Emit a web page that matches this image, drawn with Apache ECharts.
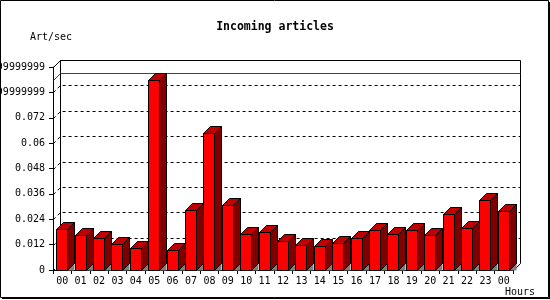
<!DOCTYPE html>
<html>
<head>
<meta charset="utf-8">
<script src="https://cdn.jsdelivr.net/npm/echarts@6/dist/echarts.min.js"></script>
<style>html,body{margin:0;padding:0;background:#fff}#c{width:550px;height:300px}</style>
</head>
<body>
<div id="c"></div>
<script>
const hours = ['00','01','02','03','04','05','06','07','08','09','10','11','12','13','14','15','16','17','18','19','20','21','22','23','00'];
const articlesPerSec = [0.0192, 0.0164, 0.0150, 0.0123, 0.0103, 0.0897, 0.0093, 0.0282, 0.0646, 0.0306, 0.0169, 0.0178, 0.0136, 0.0117, 0.0112, 0.0126, 0.0150, 0.0188, 0.0169, 0.0188, 0.0164, 0.0265, 0.0197, 0.0329, 0.0277];
const yTickValues = [0, 0.012, 0.024, 0.036, 0.048, 0.06, 0.072, 0.084, 0.096];
const yTickLabels = ['0','0.012','0.024','0.036','0.048','0.06','0.072','0.08399999999999999','0.09599999999999999'];
const titleText = 'Incoming articles';
const yName = 'Art/sec';
const xName = 'Hours';

const FONT = 'DejaVu Sans Mono';
const D = 7;

const chart = echarts.init(document.getElementById('c'), null, {renderer: 'canvas'});

function renderBack(params, api) {
  const cs = params.coordSys;
  const x0 = Math.round(cs.x) + 0.5, x1 = Math.round(cs.x + cs.width) + 0.5;
  const y0 = Math.round(cs.y) + 0.5, y1 = Math.round(cs.y + cs.height) + 0.5;
  const ch = [];
  ch.push({type:'rect', shape:{x:x0 + D, y:y0 - D, width:x1 - x0, height:y1 - y0}, style:{fill:'#fff', stroke:null}});
  for (let k = 1; k < yTickValues.length - 1; k++) {
    const y = Math.round(api.coord([0, yTickValues[k]])[1]) + 0.5;
    ch.push({type:'polyline', shape:{points:[[x0, y],[x0 + D, y - D],[x1 + D, y - D]]}, style:{fill:null, stroke:'#000', lineWidth:1, lineDash:[3,3]}});
  }
  ch.push({type:'line', shape:{x1:x0, y1:y1, x2:x0 + D, y2:y1 - D}, style:{stroke:'#000', lineWidth:1, lineDash:[2,3]}});
  ch.push({type:'polyline', shape:{points:[[x0 + D, y1 - D],[x0 + D, y0 - D],[x1 + D, y0 - D],[x1 + D, y1 - D]]}, style:{fill:null, stroke:'#000', lineWidth:1}});
  ch.push({type:'line', shape:{x1:x0, y1:y0, x2:x0 + D, y2:y0 - D}, style:{stroke:'#000', lineWidth:1}});
  ch.push({type:'line', shape:{x1:x1, y1:y1, x2:x1 + D, y2:y1 - D}, style:{stroke:'#000', lineWidth:1}});
  const maxVal = Math.max.apply(null, articlesPerSec);
  const ym = Math.round(api.coord([0, maxVal])[1]) + 0.5;
  ch.push({type:'polyline', shape:{points:[[x0, ym],[x0 + D, ym - D],[x1 + D, ym - D]]}, style:{fill:null, stroke:'#dd0000', lineWidth:1}});
  return {type:'group', children: ch};
}

function renderBar(params, api) {
  const i = api.value(0), v = api.value(1);
  const top = api.coord([i, v]);
  const base = api.coord([i, 0]);
  const w = Math.round(api.size([1, 0])[0] * 0.6);
  const l = Math.floor(top[0] - w / 2) + 0.5;
  const r = l + w;
  const t = Math.round(top[1]) + 0.5;
  const b = Math.round(base[1]) + 0.5;
  const st = {stroke:'#000', lineWidth:1};
  return {type:'group', children:[
    {type:'polygon', shape:{points:[[r, b],[r + D, b - D],[r + D, b]]}, style:{fill:'#808080', stroke:null}},
    {type:'polygon', shape:{points:[[r, t],[r + D, t - D],[r + D, b - D],[r, b]]}, style:Object.assign({fill:'#800000'}, st)},
    {type:'polygon', shape:{points:[[l, t],[l + D, t - D],[r + D, t - D],[r, t]]}, style:Object.assign({fill:'#c00000'}, st)},
    {type:'rect', shape:{x:l, y:t, width:r - l, height:b - t}, style:Object.assign({fill:'#ff0000'}, st)}
  ]};
}

const option = {
  animation: false,
  backgroundColor: '#fff',
  textStyle: {fontFamily: FONT},
  grid: {left: 53, right: 37, top: 67, bottom: 30, containLabel: false, outerBoundsMode: 'none'},
  xAxis: {
    type: 'category',
    data: hours,
    boundaryGap: true,
    axisLine: {lineStyle: {color: '#000', width: 1}},
    axisTick: {show: true, length: 4, lineStyle: {color: '#000'}},
    axisLabel: {color: '#000', fontFamily: FONT, fontSize: 10, margin: 6, interval: 0, hideOverlap: false}
  },
  yAxis: {
    type: 'value',
    min: 0, max: 0.096, interval: 0.012,
    axisLine: {show: true, lineStyle: {color: '#000', width: 1}},
    axisTick: {show: true, length: 4, lineStyle: {color: '#000'}},
    splitLine: {show: false},
    axisLabel: {color: '#000', fontFamily: FONT, fontSize: 10, margin: 8, hideOverlap: false,
      formatter: function (val, idx) { return yTickLabels[idx] !== undefined ? yTickLabels[idx] : String(val); }}
  },
  graphic: [
    {type:'text', left:'center', top:21, style:{text:titleText, font:'bold 11.5px "DejaVu Sans Mono"', fill:'#000'}, z:10},
    {type:'text', left:30, top:32, style:{text:yName, font:'10px "DejaVu Sans Mono"', fill:'#000'}, z:10},
    {type:'text', left:505, top:287, style:{text:xName, font:'10px "DejaVu Sans Mono"', fill:'#000'}, z:10},
    {type:'rect', shape:{x:0.5, y:0.5, width:548, height:297}, style:{fill:null, stroke:'#000', lineWidth:1}, z:10, silent:true},
    {type:'line', shape:{x1:549.5, y1:2, x2:549.5, y2:299}, style:{stroke:'#000', lineWidth:1}, z:10, silent:true},
    {type:'line', shape:{x1:2, y1:298.5, x2:550, y2:298.5}, style:{stroke:'#000', lineWidth:1}, z:10, silent:true}
  ],
  series: [
    {type:'custom', renderItem: renderBack, data: [[0, 0]], z: 1, clip: false, silent: true},
    {type:'custom', renderItem: renderBar, data: articlesPerSec.map(function (v, i) { return [i, v]; }), encode: {x: 0, y: 1}, z: 3, clip: false}
  ]
};
chart.setOption(option);
</script>
</body>
</html>
